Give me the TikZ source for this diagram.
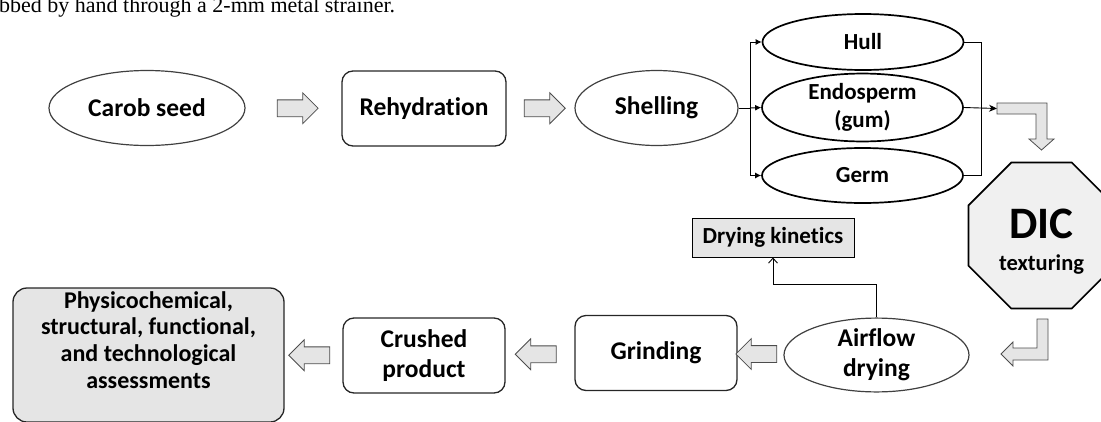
\documentclass[tikz,border=0pt]{standalone}
\usepackage{fontspec}
\setmainfont{Carlito}[Ligatures=NoCommon]
\newfontfamily\bodyfont{Liberation Serif}
\usetikzlibrary{shapes.geometric, shapes.arrows, arrows.meta, positioning, calc}
\tikzset{%
  stage/.style = {ellipse, draw=black!75, line width=1.2pt, inner sep=0pt,
                  font=\bfseries\fontsize{25.5}{30}\selectfont, align=center},
  part/.style = {ellipse, draw, line width=1.7pt, inner sep=0pt,
                 minimum width=201pt, minimum height=56pt,
                 font=\bfseries\fontsize{23}{28}\selectfont, align=center},
  proc/.style = {rectangle, rounded corners=11pt, draw=black!85, line width=1.3pt,
                 inner sep=0pt, minimum width=162pt, minimum height=75pt,
                 font=\bfseries\fontsize{25.5}{30}\selectfont, align=center},
  blockArrow/.style = {single arrow, draw=black!70, fill=arrowfill, line width=0.8pt,
                       inner xsep=0pt, inner ysep=8pt, single arrow head extend=7pt,
                       minimum height=41pt},
  bentArrow/.style = {draw=black!70, fill=arrowfill, line width=0.8pt},
  conn/.style = {draw, line width=0.9pt}
  }
\definecolor{arrowfill}{gray}{0.9}
\definecolor{boxfill}{gray}{0.9}
\definecolor{dicfill}{gray}{0.94}

\begin{document}
\begin{tikzpicture}[x=1pt, y=-1pt]
  \useasboundingbox (0,0) rectangle (1101,421);

  \node[font=\bodyfont\fontsize{22}{26}\selectfont, anchor=base west, inner sep=0pt]
    (caption) at (-1,12.5) {bbed by hand through a 2-mm metal strainer.};

  % first row
  \node (seed) [stage, minimum width=196pt, minimum height=75pt] at (147,108) {Carob seed};
  \node (rehyd) [proc, minimum width=164pt] at (424,108.5) {Rehydration};
  \node (shell) [stage, minimum width=163pt, minimum height=75pt] at (656.5,108) {Shelling};
  \node (hull) [part] at (863,42) {Hull};
  \node (endo) [part, minimum height=55pt] at (862.5,107.5) {Endosperm\\(gum)};
  \node (germ) [part, minimum height=55pt] at (862.5,175.5) {Germ};

  \node (a1) [blockArrow] at ($(seed.east)!0.5!(rehyd.west)$) {};
  \node (a2) [blockArrow] at ($(rehyd.east)!0.5!(shell.west)$) {};

  \coordinate (fork) at (750,108);
  \draw[conn] (shell.east) -- (fork);
  \draw[conn, -{Latex[length=6pt,width=6pt]}] (fork) |- (hull.west);
  \draw[conn, -{Latex[length=6pt,width=6pt]}] (fork) -- (endo.west);
  \draw[conn, -{Latex[length=6pt,width=6pt]}] (fork) |- (germ.west);

  \coordinate (merge) at (981,42);
  \coordinate (bendIn) at (997,108.5);
  \draw[conn] (hull.east) -- (merge) |- (germ.east);
  \draw[conn, -{Stealth[length=8pt,width=7pt]}] (endo.east) -- (bendIn);

  % DIC
  \node (dic) [regular polygon, regular polygon sides=8, minimum size=158pt, inner sep=0pt,
               draw, line width=1.7pt, fill=dicfill] at (1041.5,235.5) {};
  \node (dicText) [align=center, inner sep=0pt, font=\bfseries\fontsize{22.5}{32}\selectfont]
    at (1041.5,242) {{\fontsize{45}{32}\selectfont DIC}\\texturing};

  \path[bentArrow] (bendIn |- 0,103) -- (1047,103) -- (1047,139) -- (1054,139)
    -- (1041.5,150) -- (1029,139) -- (1036,139) -- (1036,114) -- (bendIn |- 0,114) -- cycle;
  \path[bentArrow] (1037,319) -- (1048,319) -- (1048,360) -- (1013,360) -- (1013,366)
    -- (1001,354) -- (1013,342) -- (1013,348) -- (1037,348) -- cycle;

  % second row
  \node (air) [stage, minimum width=185pt, minimum height=64pt] at (876.5,355) {Airflow\\drying};
  \node (kin) [rectangle, draw, fill=boxfill, line width=1pt, inner sep=0pt,
               minimum width=162pt, minimum height=39pt,
               font=\bfseries\fontsize{23}{27}\selectfont] at (773,237.5) {Drying kinetics};
  \node (grind) [proc] at (656,353) {Grinding};
  \node (crush) [proc] at (424,355.5) {Crushed\\product};
  \node (assess) [proc, fill=boxfill, rounded corners=14pt, minimum width=271pt,
                  minimum height=134pt] at (148.5,355) {};
  \node (assessText) [align=center, inner sep=0pt,
                      font=\bfseries\fontsize{24}{26.7}\selectfont] at (148.5,340)
    {Physicochemical,\\structural, functional,\\and technological\\assessments};

  \draw[conn, -{Straight Barb[length=5pt,width=9pt]}] (air.north) -- ++(0,-33) -| (kin.south);

  \node (a3) [blockArrow, shape border rotate=180] at ($(grind.east)!0.5!(air.west)$) {};
  \node (a4) [blockArrow, shape border rotate=180] at ($(crush.east)!0.5!(grind.west)$) {};
  \node (a5) [blockArrow, shape border rotate=180] at ($(assess.east)!0.5!(crush.west)$) {};
\end{tikzpicture}
\end{document}
